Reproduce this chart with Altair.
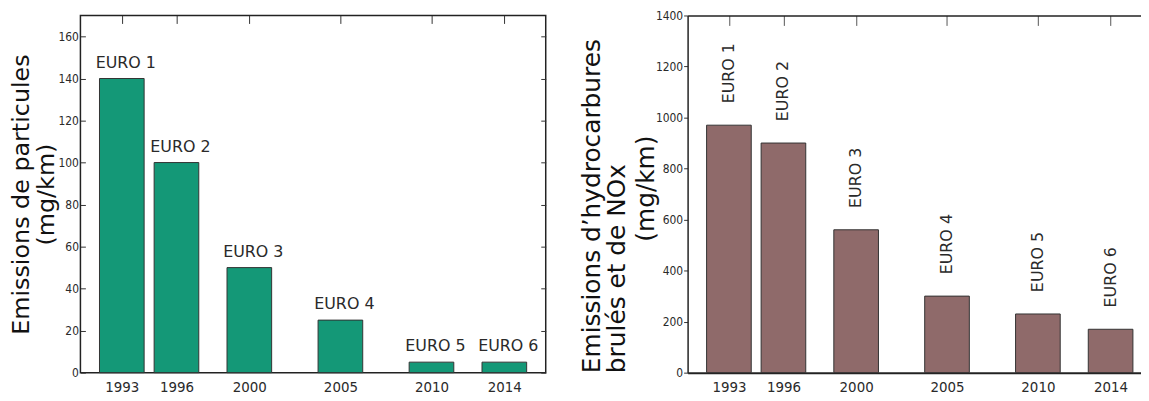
import altair as alt
import pandas as pd

years = [1993, 1996, 2000, 2005, 2010, 2014]
norms = ["EURO 1", "EURO 2", "EURO 3", "EURO 4", "EURO 5", "EURO 6"]
particules = [140, 100, 50, 25, 5, 5]
hc_nox = [970, 900, 560, 300, 230, 170]

pm_ticks = [0, 20, 40, 60, 80, 100, 120, 140, 160]
hc_ticks = [0, 200, 400, 600, 800, 1000, 1200, 1400]

df = pd.DataFrame({"year": years, "norm": norms, "pm": particules, "hc": hc_nox})

NARROW = "Liberation Sans Narrow, DejaVu Sans Condensed, Arial Narrow, sans-serif"
WIDE = "DejaVu Sans, Verdana, sans-serif"
INK = "#2a2a2a"

# ---------------- left panel ----------------
xs1 = alt.Scale(domain=[1991, 2016], nice=False, zero=False)
ys1 = alt.Scale(domain=[0, 170], nice=False)

bars1 = alt.Chart(df).mark_bar(size=45, color="#149877", stroke="#333333", strokeWidth=1).encode(
    x=alt.X("year:Q", scale=xs1, axis=alt.Axis(
        values=years, format="d", title=None, ticks=False, domain=False, grid=False,
        labelFont=NARROW, labelFontSize=15, labelColor=INK, labelPadding=7)),
    y=alt.Y("pm:Q", scale=ys1, axis=alt.Axis(
        values=pm_ticks, format="d", grid=False, domain=False, tickSize={"expr": "-5"},
        tickColor="#333333", labelPadding=7, labelFont=NARROW, labelFontSize=12, labelColor=INK,
        title=["Emissions de particules", "(mg/km)"], titleFont=WIDE, titleFontSize=24,
        titleFontWeight="normal", titleColor="#111111", titleLineHeight=25, titlePadding=0)),
)

text1 = alt.Chart(df).mark_text(font=WIDE, fontSize=16, dx=4, dy=-11, baseline="alphabetic", color=INK).encode(
    x=alt.X("year:Q", scale=xs1, axis=alt.Axis(
        orient="top", values=years, labels=False, domain=False, grid=False,
        tickSize={"expr": "-8"}, tickColor="#333333", title=None)),
    y=alt.Y("pm:Q", scale=ys1, axis=alt.Axis(
        orient="right", values=pm_ticks, labels=False, domain=False, grid=False,
        tickSize={"expr": "-5"}, tickColor="#333333", title=None)),
    text="norm:N",
)

left = alt.layer(bars1, text1).resolve_axis(x="independent", y="independent").properties(
    width=469, height=360, view=alt.ViewBackground(stroke="#222222", strokeWidth=1.5))

# ---------------- right panel ----------------
xs2 = alt.Scale(domain=[1991, 2015.4], nice=False, zero=False)
ys2 = alt.Scale(domain=[0, 1400], nice=False)

bars2 = alt.Chart(df).mark_bar(size=45, color="#8f6a6a", stroke="#333333", strokeWidth=1).encode(
    x=alt.X("year:Q", scale=xs2, axis=alt.Axis(
        values=years, format="d", title=None, ticks=False, domain=True, domainColor="#222222",
        domainWidth=2, grid=False, labelFont=NARROW, labelFontSize=15, labelColor=INK, labelPadding=7)),
    y=alt.Y("hc:Q", scale=ys2, axis=alt.Axis(
        values=hc_ticks, format="d", grid=False, domain=True, domainColor="#222222", domainWidth=1.5,
        tickSize=4, tickColor="#333333", labelPadding=1, labelFont=NARROW, labelFontSize=12,
        labelColor=INK,
        title=["Emissions d\u2019hydrocarbures", "brul\u00e9s  et de NOx"],
        titleFont=WIDE, titleFontSize=25, titleFontWeight="normal", titleColor="#111111",
        titleLineHeight=25, titlePadding=26, titleAnchor="start")),
)

text2 = alt.Chart(df).mark_text(font=WIDE, fontSize=16, angle=270, align="left", baseline="middle",
                                dx=22, color=INK).encode(
    x=alt.X("year:Q", scale=xs2, axis=alt.Axis(
        orient="top", values=years, labels=False, domain=True, domainColor="#222222",
        domainWidth=1.5, grid=False, tickSize={"expr": "-10"}, tickColor="#555555", title=None)),
    y=alt.Y("hc:Q", scale=ys2, axis=alt.Axis(
        orient="left", labels=False, ticks=False, domain=False, grid=False,
        title="(mg/km)", titleFont=WIDE, titleFontSize=25, titleFontWeight="normal",
        titleColor="#111111", titleAngle=270, titleAlign="center", titleBaseline="alphabetic",
        titleX=-34, titleY=174)),
    text="norm:N",
)

right = alt.layer(bars2, text2).resolve_axis(x="independent", y="independent").properties(
    width=457, height=360, view=alt.ViewBackground(stroke=None))

chart = alt.hconcat(left, right, spacing=32).properties(
    padding={"left": 0, "top": 0, "right": 0, "bottom": 0},
    background="white",
)

chart.save("out.html", embed_options={"renderer": "svg", "actions": False})
